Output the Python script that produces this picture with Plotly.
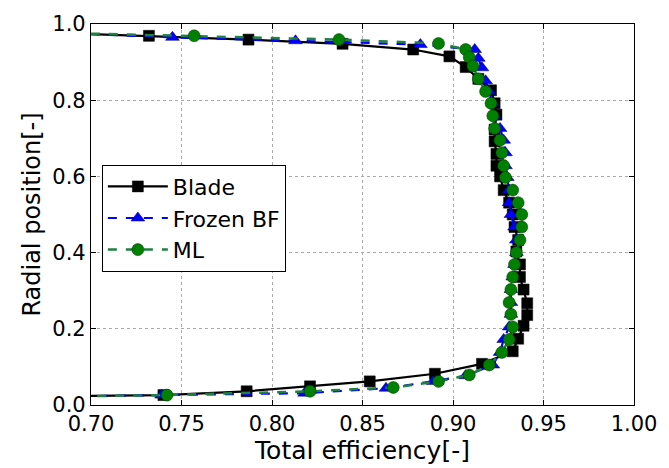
import plotly.graph_objects as go

# Blade (black squares, solid line)
blade_x = [0.68, 0.732, 0.787, 0.839, 0.878, 0.898, 0.907, 0.914, 0.921, 0.923, 0.924, 0.923, 0.923,
           0.924, 0.924, 0.926, 0.928, 0.931, 0.933, 0.934, 0.936, 0.935, 0.937, 0.937, 0.939,
           0.941, 0.941, 0.939, 0.936, 0.933, 0.916, 0.890, 0.854, 0.821, 0.786, 0.740, 0.68]
blade_y = [0.977, 0.969, 0.959, 0.948, 0.933, 0.915, 0.887, 0.856, 0.826, 0.792, 0.762, 0.723, 0.692,
           0.659, 0.628, 0.600, 0.564, 0.531, 0.500, 0.467, 0.433, 0.403, 0.369, 0.336, 0.303,
           0.267, 0.236, 0.208, 0.174, 0.141, 0.108, 0.082, 0.062, 0.049, 0.036, 0.026, 0.023]

# Frozen BF (blue triangles, dashed)
frozen_x = [0.68, 0.745, 0.813, 0.882, 0.912, 0.914, 0.916, 0.918, 0.920, 0.922, 0.923, 0.926, 0.928,
            0.929, 0.929, 0.930, 0.931, 0.931, 0.932, 0.934, 0.935, 0.935, 0.934, 0.933, 0.932,
            0.932, 0.932, 0.931, 0.928, 0.926, 0.922, 0.907, 0.889, 0.863, 0.818, 0.739, 0.68]
frozen_y = [0.977, 0.965, 0.956, 0.946, 0.933, 0.910, 0.885, 0.851, 0.823, 0.792, 0.759, 0.726, 0.695,
            0.662, 0.628, 0.597, 0.564, 0.531, 0.500, 0.467, 0.433, 0.400, 0.369, 0.336, 0.303,
            0.269, 0.238, 0.205, 0.172, 0.138, 0.105, 0.077, 0.062, 0.044, 0.031, 0.026, 0.022]

# ML (green circles, dashed)
ml_x = [0.68, 0.757, 0.837, 0.892, 0.907, 0.909, 0.911, 0.914, 0.918, 0.921, 0.922, 0.923, 0.926,
        0.927, 0.928, 0.929, 0.933, 0.936, 0.938, 0.938, 0.937, 0.935, 0.934, 0.933, 0.932,
        0.931, 0.932, 0.933, 0.931, 0.927, 0.920, 0.909, 0.892, 0.867, 0.821, 0.742, 0.68]
ml_y = [0.977, 0.969, 0.959, 0.949, 0.933, 0.913, 0.890, 0.856, 0.823, 0.792, 0.759, 0.726, 0.695,
        0.662, 0.628, 0.597, 0.564, 0.531, 0.500, 0.467, 0.433, 0.400, 0.369, 0.336, 0.303,
        0.269, 0.238, 0.205, 0.172, 0.138, 0.105, 0.079, 0.062, 0.046, 0.036, 0.026, 0.022]

x_ticks = [0.70, 0.75, 0.80, 0.85, 0.90, 0.95, 1.00]
y_ticks = [0.0, 0.2, 0.4, 0.6, 0.8, 1.0]

fig = go.Figure()
fig.add_trace(go.Scatter(
    x=blade_x, y=blade_y, name="Blade", mode="lines+markers",
    line=dict(color="black", width=2.2),
    marker=dict(symbol="square", size=11, color="black", line=dict(color="black", width=0.5)),
))
fig.add_trace(go.Scatter(
    x=frozen_x, y=frozen_y, name="Frozen BF", mode="lines+markers",
    line=dict(color="#0000ff", width=2.2, dash="dash"),
    marker=dict(symbol="triangle-up", size=12, color="#0000ff", line=dict(color="#000044", width=0.5)),
))
fig.add_trace(go.Scatter(
    x=ml_x, y=ml_y, name="ML", mode="lines+markers",
    line=dict(color="#1f8040", width=2.5, dash="dash"),
    marker=dict(symbol="circle", size=12, color="#008000", line=dict(color="#003300", width=0.5)),
))

axis_common = dict(
    showline=True, linecolor="black", linewidth=1.2, mirror="ticks",
    ticks="inside", ticklen=5, tickcolor="black",
    showgrid=True, gridcolor="#aaaaaa", gridwidth=1, griddash="dot",
    zeroline=False, tickfont=dict(family="DejaVu Sans", size=21, color="black"),
)

fig.update_xaxes(range=[0.70, 1.00], tickvals=x_ticks, ticktext=[f"{v:.2f}" for v in x_ticks],
                 title=dict(text="Total efficiency[-]", font=dict(family="DejaVu Sans", size=25, color="black"), standoff=2),
                 **axis_common)
fig.update_yaxes(range=[0.0, 1.0], tickvals=y_ticks, ticktext=[f"{v:.1f}" for v in y_ticks],
                 title=dict(text="Radial position[-]", font=dict(family="DejaVu Sans", size=24, color="black"), standoff=4),
                 **axis_common)

fig.update_layout(
    width=669, height=468,
    margin=dict(l=91, r=35, t=18, b=60),
    paper_bgcolor="white", plot_bgcolor="white",
    font=dict(family="DejaVu Sans", color="black"),
    legend=dict(x=0.02, y=0.631, xanchor="left", yanchor="top",
                bgcolor="white", bordercolor="black", borderwidth=1,
                itemwidth=60,
                font=dict(family="DejaVu Sans", size=22, color="black")),
    showlegend=True,
)

fig.write_html("out.html")
